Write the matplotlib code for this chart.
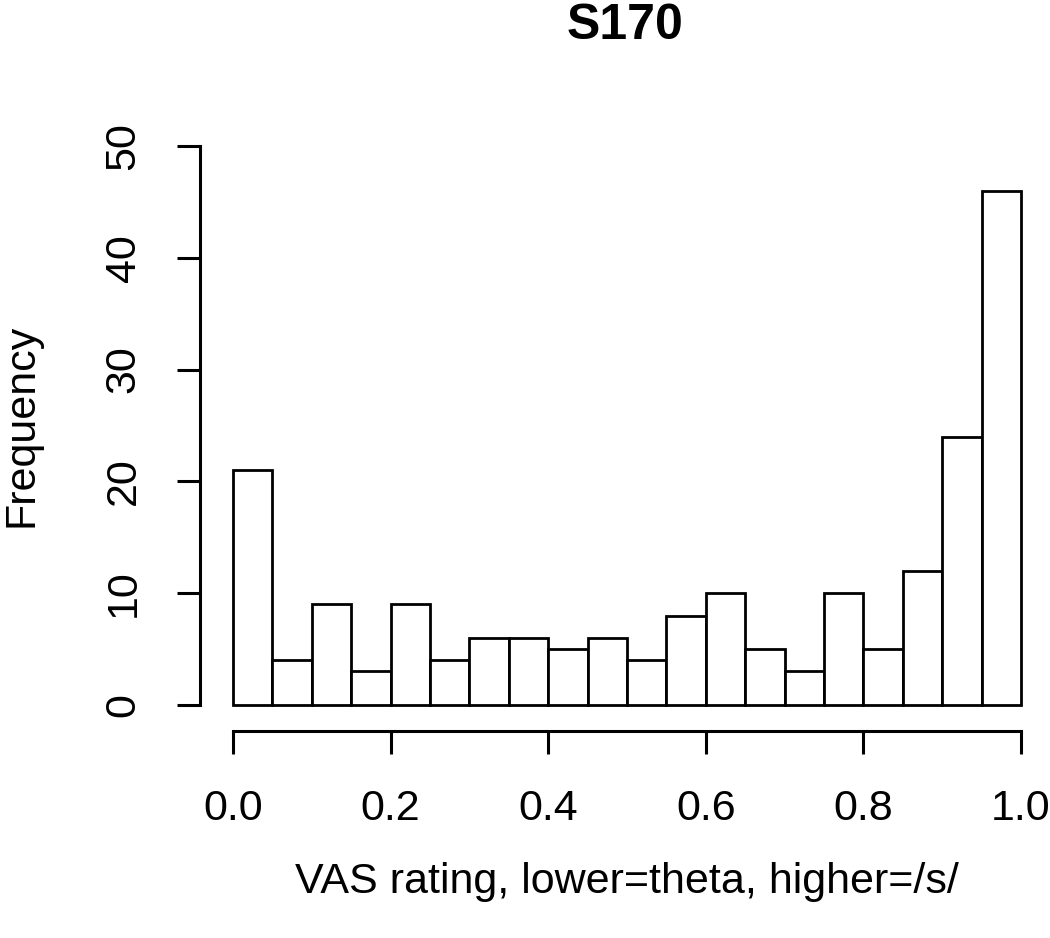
import matplotlib
matplotlib.use("Agg")
import matplotlib.pyplot as plt
import numpy as np

plt.rcParams['font.family'] = ['Liberation Sans', 'DejaVu Sans']

bin_edges = np.round(np.arange(0, 1.0001, 0.05), 2)
counts = [21, 4, 9, 3, 9, 4, 6, 6, 5, 6, 4, 8, 10, 5, 3, 10, 5, 12, 24, 46]
xticks = [0.0, 0.2, 0.4, 0.6, 0.8, 1.0]
xticklabels = ["0.0", "0.2", "0.4", "0.6", "0.8", "1.0"]
yticks = [0, 10, 20, 30, 40, 50]
title = "S170"
xlabel = "VAS rating, lower=theta, higher=/s/"
ylabel = "Frequency"

W, H = 1050, 938
fig = plt.figure(figsize=(W / 100, H / 100), dpi=100)
ax = fig.add_axes([233 / W, (H - 705) / H, 788 / W, 559 / H])

lw = 2.0
ax.bar(bin_edges[:-1], counts, width=np.diff(bin_edges), align='edge',
       facecolor='white', edgecolor='black', linewidth=lw, clip_on=False)

ax.set_xlim(0, 1)
ax.set_ylim(0, 50)
for s in ['top', 'right']:
    ax.spines[s].set_visible(False)
ax.spines['left'].set_position(('outward', 33 * 0.72))
ax.spines['bottom'].set_position(('outward', 26 * 0.72))
ax.spines['left'].set_bounds(0, 50)
ax.spines['bottom'].set_bounds(0, 1)
for s in ['left', 'bottom']:
    ax.spines[s].set_linewidth(2.2)
    ax.spines[s].set_capstyle('projecting')

ax.set_xticks(xticks)
ax.set_xticklabels(xticklabels)
ax.set_yticks(yticks)
ax.set_yticklabels([str(v) for v in yticks], rotation=90, va='center')
ax.tick_params(axis='both', length=23 * 0.72, width=2.2, labelsize=31, color='black')
ax.tick_params(axis='x', pad=25)
ax.tick_params(axis='y', pad=24)

fig.text(625 / W, 1 - 26 / H, title, ha='center', va='center', fontsize=36, fontweight='bold')
fig.text(627 / W, 1 - 882 / H, xlabel, ha='center', va='center', fontsize=31)
fig.text(22 / W, 1 - 425 / H, ylabel, ha='center', va='center', rotation=90, fontsize=31)

fig.savefig("out.png", dpi=100)
